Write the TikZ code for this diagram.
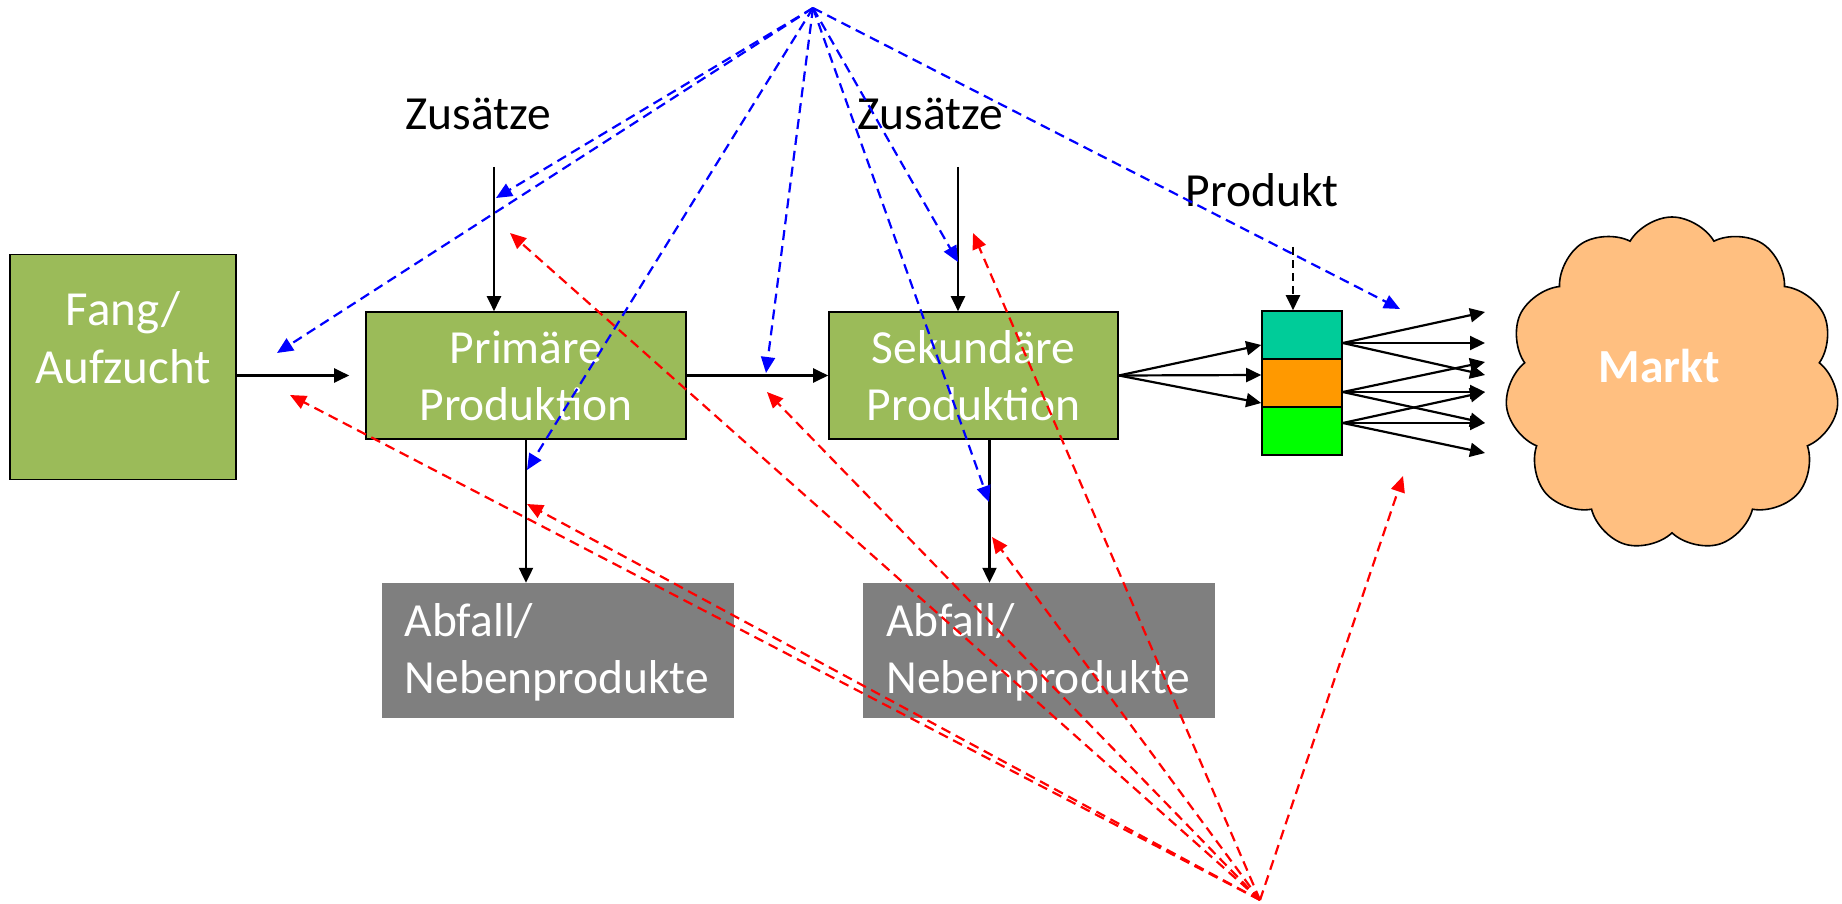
\documentclass[tikz,border=0pt]{standalone}
\usepackage{fontspec}
\setmainfont{Carlito}
\usetikzlibrary{positioning, shapes.symbols, arrows.meta, calc}
\definecolor{stagegreen}{RGB}{155,187,89}
\definecolor{wastegray}{RGB}{127,127,127}
\definecolor{segteal}{RGB}{0,204,153}
\definecolor{segorange}{RGB}{255,153,0}
\definecolor{seggreen}{RGB}{0,255,0}
\definecolor{cloudfill}{RGB}{255,191,128}
\tikzset{
    stage/.style={draw=black, line width=1.6pt, fill=stagegreen, inner sep=0pt},
    waste/.style={fill=wastegray, inner sep=0pt, minimum width=352pt, minimum height=135pt},
    seg/.style={draw=black, line width=1.6pt, inner sep=0pt, minimum width=80pt, minimum height=48pt},
    whitetext/.style={text=white, align=center, font=\fontsize{47.5}{57}\selectfont},
    blacktext/.style={font=\fontsize{47.5}{57}\selectfont},
    flow/.style={line width=2.2pt, -{Triangle[length=15pt,width=14pt]}},
    info/.style={blue, line width=2.2pt, dash pattern=on 10pt off 6pt, -{Triangle[length=16pt,width=14pt]}},
    feedback/.style={red, line width=2.2pt, dash pattern=on 10pt off 6pt, -{Triangle[length=16pt,width=14pt]}}
}
\begin{document}
\begin{tikzpicture}[x=1pt, y=-1pt]
        \useasboundingbox (0,0) rectangle (1842,904);

        \node[stage, minimum width=226pt, minimum height=225pt] (fang) at (123,367) {};
        \node[whitetext, font=\fontsize{49}{58}\selectfont] (fangtext) at ($(fang.center)+(0,-29)$) {Fang/\\Aufzucht};
        \node[stage, whitetext, minimum width=320pt, minimum height=127pt] (prim) at (526,375.5) {Primäre\\Produktion};
        \node[stage, whitetext, minimum width=289pt, minimum height=127pt] (sek) at (973.5,375.5) {Sekundäre\\Produktion};
        \node[waste] (abf1) at (557.5,650.5) {};
        \node[waste] (abf2) at (1039,650.5) {};
        \node[whitetext, align=left, anchor=west] (abf1text) at ($(abf1.west)+(20,2)$) {Abfall/\\Nebenprodukte};
        \node[whitetext, align=left, anchor=west] (abf2text) at ($(abf2.west)+(20,2)$) {Abfall/\\Nebenprodukte};

        \node[seg, fill=segteal] (st1) at (1302,335) {};
        \node[seg, fill=segorange] (st2) at (1302,383) {};
        \node[seg, fill=seggreen] (st3) at (1302,431) {};

        \node[cloud, cloud puffs=11, cloud puff arc=120, aspect=1, draw=black, line width=1.6pt, fill=cloudfill,
              minimum width=334pt, minimum height=334pt, inner sep=0pt] (markt) at (1672,384) {};
        \node[whitetext, font=\fontsize{47.5}{57}\selectfont\bfseries] (markttext) at (1659,366) {Markt};

        \node[blacktext, anchor=base] (zus1) at (478,130) {Zusätze};
        \node[blacktext, anchor=base] (zus2) at (930,130) {Zusätze};
        \node[blacktext, anchor=base] (prod) at (1262,207) {Produkt};

        \coordinate (z1) at (494,167);
        \coordinate (z2) at (958,167);
        \coordinate (prodin) at (1293,247);
        \foreach \i/\y in {1/312, 2/343, 3/362, 4/375, 5/392, 6/423, 7/453}
            \coordinate (m\i) at (1485,\y);

        \draw[flow] (z1) -- (z1 |- prim.north);
        \draw[flow] (z2) -- (z2 |- sek.north);
        \draw[flow, dash pattern=on 8pt off 5pt] (prodin) -- (prodin |- st1.north);
        \draw[flow] (fang.east |- prim.west) -- ([xshift=-16pt]prim.west);
        \draw[flow] (prim.east) -- (sek.west);
        \draw[flow] (prim.south) -- (prim.south |- abf1.north);
        \draw[flow] ([xshift=16pt]sek.south) -- ([xshift=16pt]sek.south |- abf2.north);
        \foreach \y in {345, 375, 403}
            \draw[flow] (sek.east) -- (st1.west |- 0,\y);
        \foreach \s/\o/\ts in {st1/343/{1,2,4}, st2/392/{3,5,6}, st3/423/{5,6,7}}
            \foreach \t in \ts
                \draw[flow] (\s.east |- 0,\o) -- (m\t);

        \coordinate (bsrc) at (813,8);
        \foreach \i/\x/\y in {1/277/353, 2/496/198, 3/527/470, 4/766/373, 5/958/262, 6/989/502, 7/1400/309}
            \coordinate (b\i) at (\x,\y);
        \foreach \i in {1,...,7}
            \draw[info] (bsrc) -- (b\i);

        \coordinate (rsrc) at (1260,900);
        \foreach \i/\x/\y in {1/290/395, 2/510/233, 3/527/504, 4/767/392, 5/973/233, 6/992/537, 7/1403/476}
            \coordinate (r\i) at (\x,\y);
        \foreach \i in {1,...,7}
            \draw[feedback] (rsrc) -- (r\i);
    \end{tikzpicture}
\end{document}
